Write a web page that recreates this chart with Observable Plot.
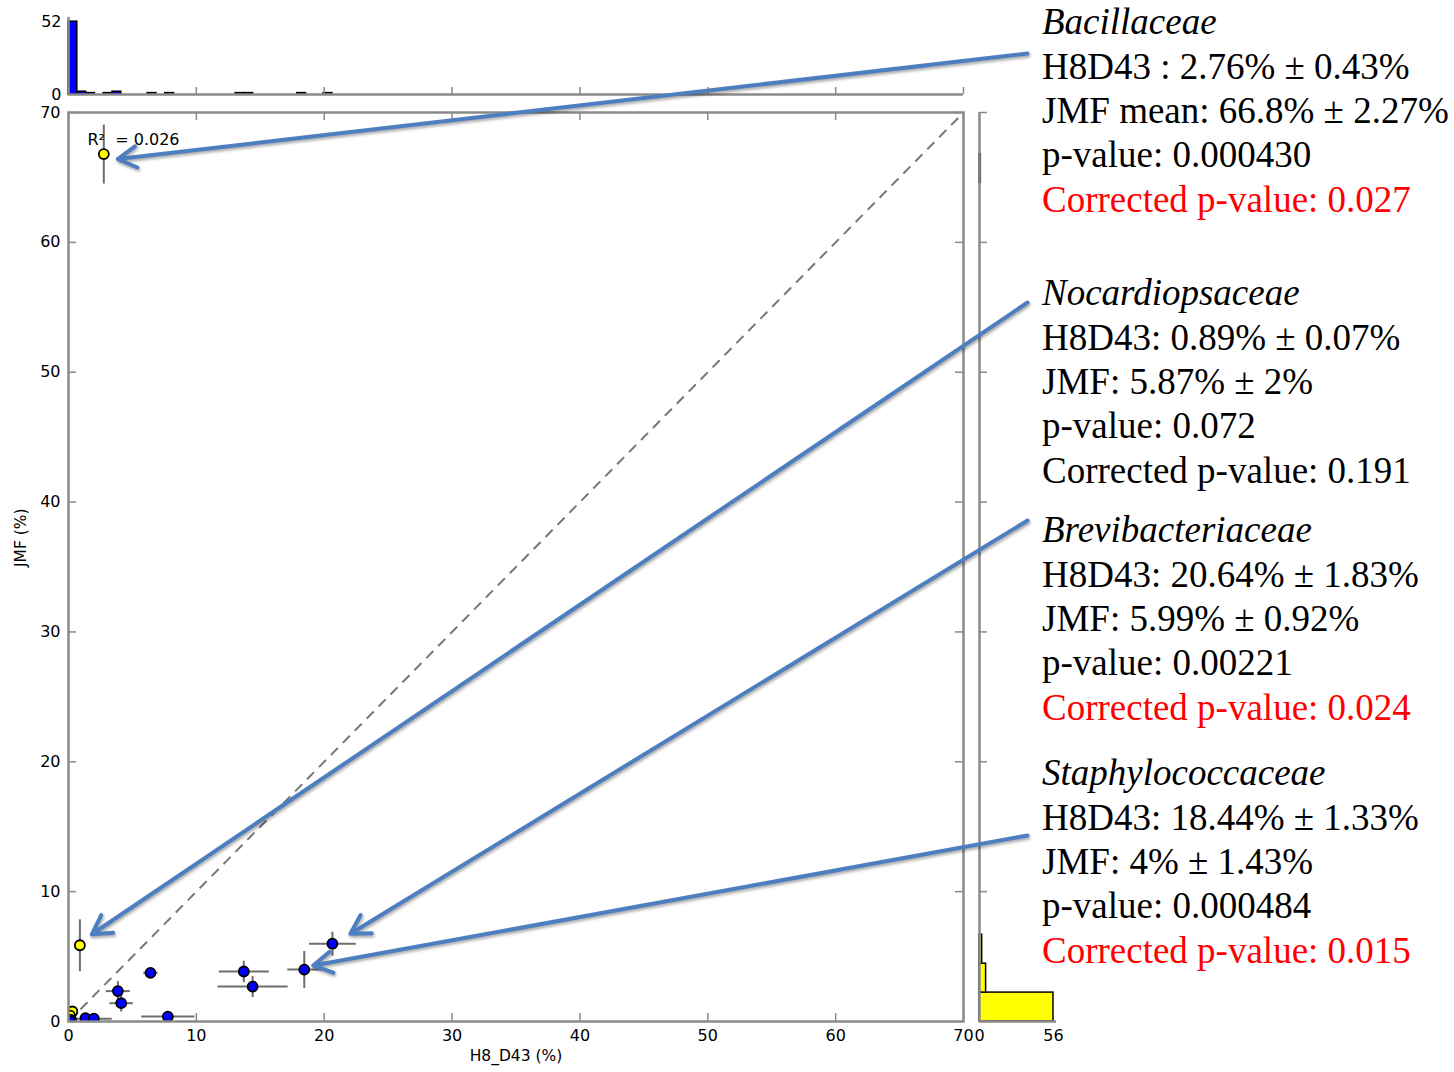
<!DOCTYPE html>
<html><head><meta charset="utf-8">
<script src="https://cdn.jsdelivr.net/npm/d3@7"></script>
<script src="https://cdn.jsdelivr.net/npm/@observablehq/plot@0.6"></script>
<style>
body{margin:0;background:#fff;}
#fig{position:relative;width:1454px;height:1072px;overflow:hidden;background:#fff;}
#fig svg{position:absolute;left:0;top:0;}
.note{position:absolute;left:1042px;font-family:"Liberation Serif","Times New Roman",serif;font-size:37px;line-height:44.3px;white-space:nowrap;color:#000;}
.note .fam{font-style:italic}
.note .red{color:#ff0000}
</style></head><body><div id="fig"></div>
<script>
// ---------------- data ----------------
const taxa      = ["Bacillaceae","Nocardiopsaceae","Brevibacteriaceae","Staphylococcaceae","t05","t06","t07","t08","t09","t10","t11","t12","t13","t14","t15","t16"];
const h8d43     = [2.76, 0.89, 20.64, 18.44, 6.41, 3.86, 4.12, 7.77, 13.71, 14.40, 1.33, 1.98, 0.30, 0.12, 0.20, 0.05];
const h8d43Err  = [0.43, 0.07, 1.83, 1.33, 0.56, 0.94, 0.91, 2.08, 1.95, 2.74, 0.30, 1.40, 0.20, 0.10, 0.15, 0.05];
const jmf       = [66.8, 5.87, 5.99, 4.00, 3.75, 2.34, 1.41, 0.38, 3.85, 2.69, 0.25, 0.22, 0.77, 0.45, 0.12, 0.05];
const jmfErr    = [2.27, 2.00, 0.92, 1.43, 0.25, 0.77, 0.64, 0.10, 0.83, 0.81, 0.10, 0.10, 0.20, 0.10, 0.08, 0.05];

// marginal histograms: 30 bins each
const h8Max = 20.64;
const h8Counts  = [52,2,1,0,1,2,0,0,0,1,0,1,0,0,0,0,0,0,0,1,1,0,0,0,0,0,1,0,0,1];
const jmfMax = 66.8;
const jmfCounts = [56,5,2,0,0,0,0,0,0,0,0,0,0,0,0,0,0,0,0,0,0,0,0,0,0,0,0,0,0,1];

const axisTicks = [0,10,20,30,40,50,60,70];
const topHistTicks = [0,52];
const rightHistTicks = [0,56];
const r2Label = "R\u00b2 \u00a0= 0.026";
const xLabel = "H8_D43 (%)";
const yLabel = "JMF (%)";

const noteTitles = ["Bacillaceae","Nocardiopsaceae","Brevibacteriaceae","Staphylococcaceae"];
const noteH8 = ["H8D43 : 2.76% ± 0.43%","H8D43: 0.89% ± 0.07%","H8D43: 20.64% ± 1.83%","H8D43: 18.44% ± 1.33%"];
const noteJmf = ["JMF mean: 66.8% ± 2.27%","JMF: 5.87% ± 2%","JMF: 5.99% ± 0.92%","JMF: 4% ± 1.43%"];
const notePval = ["p-value: 0.000430","p-value: 0.072","p-value: 0.00221","p-value: 0.000484"];
const noteCorr = ["Corrected p-value: 0.027","Corrected p-value: 0.191","Corrected p-value: 0.024","Corrected p-value: 0.015"];
const noteSig = [true,false,true,true];

// ---------------- layout ----------------
const W = 1454, H = 1072;
const M = {left:68, right:963, top:112, bottom:1021};
const TOP = {top:17, bottom:94};
const RH = {left:979, right:1056};
const noteBaseline = [35, 306, 543, 786];
const tailPx = [[1027,53],[1027,302],[1027,520],[1027,835]];
const tipOffsetPx = [[14,5],[12,-11],[18,-10],[9,-4]];
const tickLen = 8;
const gray = "#8a8a8a";
const font = "DejaVu Sans";

const xDom = [0,70], yDom = [0,70];
const ux = (M.right - M.left) / (xDom[1]-xDom[0]);
const uy = (M.bottom - M.top) / (yDom[1]-yDom[0]);
const toX = px => (px - M.left) / ux;
const toY = py => (M.bottom - py) / uy;

const pts = taxa.map((t,i) => ({t, x:h8d43[i], xe:h8d43Err[i], y:jmf[i], ye:jmfErr[i], up: jmf[i] > h8d43[i]}));
const svgStyle = {background:"transparent", overflow:"visible", fontFamily:font, fontSize:"16px", color:"#000"};

const fig = document.getElementById("fig");

// ---------- top histogram ----------
const hw = h8Max / h8Counts.length;
const h8Bins = h8Counts.map((c,i)=>({x1:i*hw, x2:(i+1)*hw, c})).filter(d=>d.c>0);
const topDom = [0,55];
const topU = (TOP.bottom-TOP.top)/(topDom[1]-topDom[0]);
fig.appendChild(Plot.plot({
  width:W, height:H,
  marginLeft:M.left, marginRight:W-M.right, marginTop:TOP.top, marginBottom:H-TOP.bottom,
  x:{domain:xDom, axis:null}, y:{domain:topDom, axis:null},
  style:svgStyle,
  marks:[
    Plot.rect(h8Bins, {x1:"x1", x2:"x2", y1:0, y2:"c", fill:"#0000ff", stroke:"#000", strokeWidth:1.5}),
    Plot.ruleX(axisTicks, {x:d=>d, y1:0, y2:7/topU, stroke:gray, strokeWidth:1.5}),
    Plot.ruleY([0], {stroke:gray, strokeWidth:2.5}),
    Plot.ruleX([0], {stroke:gray, strokeWidth:2.5}),
    Plot.text(topHistTicks, {y:d=>d, frameAnchor:"left", dx:-7, textAnchor:"end", text:d=>String(d), fontSize:16})
  ]
}));

// ---------- right histogram ----------
const jw = jmfMax / jmfCounts.length;
const jBins = jmfCounts.map((c,i)=>({y1:i*jw, y2:(i+1)*jw, c})).filter(d=>d.c>0);
const rDom = [0,58.3];
const rU = (RH.right-RH.left)/(rDom[1]-rDom[0]);
fig.appendChild(Plot.plot({
  width:W, height:H,
  marginLeft:RH.left, marginRight:W-RH.right, marginTop:M.top, marginBottom:H-M.bottom,
  x:{domain:rDom, axis:null}, y:{domain:yDom, axis:null},
  style:svgStyle,
  marks:[
    Plot.rect(jBins, {y1:"y1", y2:"y2", x1:0, x2:"c", fill:"#ffff00", stroke:"#000", strokeWidth:1.5}),
    Plot.ruleY(axisTicks, {y:d=>d, x1:0, x2:tickLen/rU, stroke:gray, strokeWidth:1.5}),
    Plot.ruleY([0], {stroke:gray, strokeWidth:2.5}),
    Plot.ruleX([0], {stroke:gray, strokeWidth:2.5}),
    Plot.text(rightHistTicks, {x:d=>d, frameAnchor:"bottom", dy:19, text:d=>String(d), fontSize:16})
  ]
}));

// ---------- main scatter ----------
const arrowMarks = noteTitles.map((name,k) => {
  const p = pts.find(d => d.t === name);
  return Plot.arrow([p], {
    x1: () => toX(tailPx[k][0]), y1: () => toY(tailPx[k][1]),
    x2: d => d.x + tipOffsetPx[k][0] / ux, y2: d => d.y - tipOffsetPx[k][1] / uy,
    stroke:"#4d7ebf", strokeWidth:4, headLength:8, headAngle:60
  });
});

const mainSvg = Plot.plot({
  width:W, height:H,
  marginLeft:M.left, marginRight:W-M.right, marginTop:M.top, marginBottom:H-M.bottom,
  x:{domain:xDom, axis:null}, y:{domain:yDom, axis:null},
  style:svgStyle,
  marks:[
    Plot.ruleX(axisTicks, {x:d=>d, y1:yDom[0], y2:yDom[0]+tickLen/uy, stroke:gray, strokeWidth:1.5}),
    Plot.ruleX(axisTicks, {x:d=>d, y1:yDom[1], y2:yDom[1]-tickLen/uy, stroke:gray, strokeWidth:1.5}),
    Plot.ruleY(axisTicks, {y:d=>d, x1:xDom[0], x2:xDom[0]+tickLen/ux, stroke:gray, strokeWidth:1.5}),
    Plot.ruleY(axisTicks, {y:d=>d, x1:xDom[1], x2:xDom[1]-tickLen/ux, stroke:gray, strokeWidth:1.5}),
    Plot.link([0], {x1:xDom[0], y1:yDom[0], x2:xDom[1], y2:yDom[1], stroke:"#777", strokeWidth:2, strokeDasharray:"10,7"}),
    Plot.link(pts, {x1:d=>d.x-d.xe, x2:d=>d.x+d.xe, y1:"y", y2:"y", stroke:"#6e6e6e", strokeWidth:2, clip:true}),
    Plot.link(pts, {x1:"x", x2:"x", y1:d=>d.y-d.ye, y2:d=>d.y+d.ye, stroke:"#6e6e6e", strokeWidth:2, clip:true}),
    Plot.dot(pts, {x:"x", y:"y", r:5, fill:d=>d.up?"#ffff00":"#0000ff", stroke:"#000", strokeWidth:1.8, clip:true}),
    Plot.frame({stroke:gray, strokeWidth:2.5}),
    Plot.text(axisTicks, {x:d=>d, frameAnchor:"bottom", dy:19, text:d=>String(d), fontSize:16}),
    Plot.text(axisTicks, {y:d=>d, frameAnchor:"left", dx:-8, textAnchor:"end", text:d=>String(d), fontSize:16}),
    Plot.text([xLabel], {frameAnchor:"bottom", dy:39, text:d=>d, fontSize:15.5}),
    Plot.text([yLabel], {frameAnchor:"left", dx:-47, rotate:-90, text:d=>d, fontSize:15.5}),
    Plot.text([r2Label], {frameAnchor:"top-left", dx:19, dy:21, textAnchor:"start", text:d=>d, fontSize:16}),
    ...arrowMarks
  ]
});
fig.appendChild(mainSvg);
mainSvg.querySelectorAll('g[aria-label="arrow"]').forEach(g => {
  g.style.filter = "drop-shadow(1.5px 2.5px 1.5px rgba(0,0,0,0.35))";
});

// ---------- annotation text ----------
noteTitles.forEach((t,k) => {
  const div = document.createElement("div");
  div.className = "note";
  div.style.top = (noteBaseline[k] - 34.6) + "px";
  const lines = [
    `<div class="fam">${t}</div>`,
    `<div>${noteH8[k]}</div>`,
    `<div>${noteJmf[k]}</div>`,
    `<div>${notePval[k]}</div>`,
    `<div class="${noteSig[k] ? "red" : ""}">${noteCorr[k]}</div>`
  ];
  div.innerHTML = lines.join("");
  fig.appendChild(div);
});
</script>
</body></html>
